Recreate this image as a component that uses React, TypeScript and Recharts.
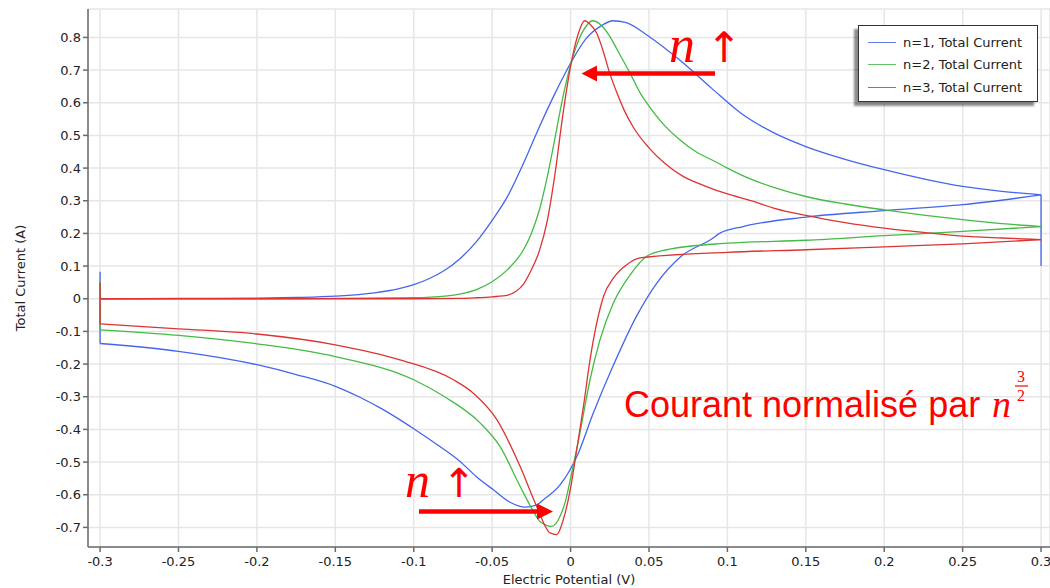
import React from 'react';
import { LineChart, Line, XAxis, YAxis, CartesianGrid } from 'recharts';

// Forward sweeps (potential in V, current in A), one pair per n
const fwdV1 = [-0.3, -0.25, -0.2, -0.175, -0.15, -0.125, -0.11, -0.1, -0.09, -0.08, -0.07, -0.06, -0.05, -0.04, -0.03, -0.02, -0.01, 0, 0.01, 0.02, 0.027, 0.035, 0.05, 0.07, 0.09, 0.11, 0.13, 0.15, 0.175, 0.2, 0.225, 0.25, 0.275, 0.3];
const fwdI1 = [0, 0.001, 0.002, 0.004, 0.008, 0.018, 0.03, 0.043, 0.062, 0.088, 0.125, 0.175, 0.24, 0.315, 0.415, 0.525, 0.628, 0.721, 0.797, 0.837, 0.851, 0.846, 0.803, 0.729, 0.644, 0.563, 0.507, 0.466, 0.427, 0.395, 0.367, 0.344, 0.329, 0.318];

const fwdV2 = [-0.3, -0.2, -0.15, -0.1, -0.08, -0.07, -0.06, -0.05, -0.04, -0.03, -0.025, -0.02, -0.015, -0.01, -0.005, 0, 0.005, 0.01, 0.014, 0.02, 0.025, 0.03, 0.038, 0.045, 0.05, 0.06, 0.07, 0.08, 0.093, 0.1, 0.115, 0.13, 0.15, 0.175, 0.2, 0.225, 0.25, 0.275, 0.3];
const fwdI2 = [0, 0, 0.001, 0.003, 0.008, 0.015, 0.028, 0.052, 0.09, 0.15, 0.2, 0.27, 0.37, 0.49, 0.615, 0.716, 0.79, 0.835, 0.851, 0.835, 0.803, 0.76, 0.69, 0.625, 0.59, 0.53, 0.485, 0.45, 0.418, 0.4, 0.366, 0.34, 0.313, 0.29, 0.272, 0.256, 0.242, 0.23, 0.221];

const fwdV3 = [-0.3, -0.1, -0.07, -0.06, -0.05, -0.04, -0.035, -0.03, -0.026, -0.02, -0.015, -0.01, -0.005, 0, 0.005, 0.009, 0.0125, 0.0167, 0.02, 0.025, 0.03, 0.034, 0.04, 0.05, 0.06, 0.072, 0.08, 0.093, 0.1, 0.115, 0.13, 0.15, 0.175, 0.2, 0.225, 0.25, 0.275, 0.3];
const fwdI3 = [0, 0, 0.001, 0.003, 0.006, 0.011, 0.022, 0.045, 0.079, 0.145, 0.235, 0.38, 0.56, 0.711, 0.813, 0.851, 0.84, 0.813, 0.77, 0.69, 0.625, 0.579, 0.525, 0.462, 0.415, 0.374, 0.356, 0.332, 0.321, 0.3, 0.277, 0.255, 0.233, 0.216, 0.203, 0.192, 0.186, 0.181];

// Reverse sweeps, from +0.3 V back to -0.3 V
const revV1 = [0.3, 0.25, 0.2, 0.15, 0.11, 0.095, 0.09, 0.07, 0.055, 0.042, 0.027, 0.0145, 0.004, -0.0067, -0.0173, -0.0216, -0.029, -0.0386, -0.0492, -0.06, -0.0705, -0.085, -0.1, -0.11, -0.12, -0.135, -0.15, -0.175, -0.2, -0.25, -0.3];
const revI1 = [0.318, 0.288, 0.27, 0.25, 0.221, 0.2, 0.183, 0.128, 0.048, -0.054, -0.207, -0.35, -0.483, -0.57, -0.615, -0.631, -0.638, -0.623, -0.585, -0.545, -0.498, -0.447, -0.398, -0.367, -0.338, -0.3, -0.268, -0.232, -0.202, -0.161, -0.137];

const revV2 = [0.3, 0.25, 0.2, 0.15, 0.1, 0.0613, 0.0486, 0.038, 0.0273, 0.0188, 0.0124, 0.006, 0, -0.003, -0.0067, -0.012, -0.0195, -0.0237, -0.0322, -0.045, -0.0577, -0.079, -0.1, -0.15, -0.2, -0.25, -0.3];
const revI2 = [0.221, 0.206, 0.193, 0.179, 0.17, 0.15, 0.13, 0.073, -0.013, -0.125, -0.248, -0.41, -0.55, -0.615, -0.666, -0.697, -0.682, -0.651, -0.574, -0.452, -0.38, -0.304, -0.248, -0.177, -0.138, -0.112, -0.095];

const revV3 = [0.3, 0.25, 0.2, 0.15, 0.1, 0.0443, 0.0358, 0.0273, 0.021, 0.0167, 0.0124, 0.0082, 0.004, 0, -0.0046, -0.0088, -0.0131, -0.0216, -0.0322, -0.047, -0.062, -0.0747, -0.1088, -0.15, -0.2, -0.25, -0.3];
const revI3 = [0.181, 0.168, 0.159, 0.15, 0.142, 0.125, 0.104, 0.063, 0.007, -0.074, -0.187, -0.33, -0.46, -0.58, -0.676, -0.722, -0.717, -0.636, -0.513, -0.37, -0.289, -0.248, -0.187, -0.141, -0.108, -0.092, -0.077];

// initial current at -0.3 V, and lowest current at the +0.3 V switching point
const startI = [0.083, 0.053, 0.048];
const switchI = [0.1, 0.221, 0.181];

const seriesNames = ['n=1, Total Current', 'n=2, Total Current', 'n=3, Total Current'];
const seriesColors = ['#4466ee', '#44bb44', '#dd3333'];

const xTicks = [-0.3, -0.25, -0.2, -0.15, -0.1, -0.05, 0, 0.05, 0.1, 0.15, 0.2, 0.25, 0.3];
const yTicks = [-0.7, -0.6, -0.5, -0.4, -0.3, -0.2, -0.1, 0, 0.1, 0.2, 0.3, 0.4, 0.5, 0.6, 0.7, 0.8];

const W = 1050;
const H = 588;
const FONT = '"DejaVu Sans", Verdana, sans-serif';
const RED = '#ff0000';
const X_DOMAIN: [number, number] = [-0.3077, 0.3057];
const Y_DOMAIN: [number, number] = [-0.76, 0.887];

const zip = (vs: number[], is: number[]) => vs.map((v, k) => ({ v, i: is[k] }));

// each cycle = smooth forward branch + smooth reverse branch + vertical jumps at the scan ends
const cycles = [
  { fwd: zip(fwdV1, fwdI1), rev: zip(revV1, revI1) },
  { fwd: zip(fwdV2, fwdI2), rev: zip(revV2, revI2) },
  { fwd: zip(fwdV3, fwdI3), rev: zip(revV3, revI3) },
].map((c, k) => {
  const fEnd = c.fwd[c.fwd.length - 1];
  const rStart = c.rev[0];
  const rEnd = c.rev[c.rev.length - 1];
  const jumps = [
    { v: fEnd.v, i: fEnd.i },
    { v: fEnd.v, i: switchI[k] },
    { v: rStart.v, i: rStart.i },
    { v: 0, i: null },
    { v: rEnd.v, i: rEnd.i },
    { v: rEnd.v, i: startI[k] },
    { v: c.fwd[0].v, i: c.fwd[0].i },
  ];
  return { ...c, jumps };
});

const axisColor = '#6b6b6b';
const tickText = { fill: '#222', fontSize: 13, fontFamily: FONT };

function YTitle(props: any) {
  const { viewBox } = props;
  const cx = viewBox.x + 20;
  const cy = viewBox.y + viewBox.height / 2;
  return (
    <text x={cx} y={cy} transform={`rotate(-90 ${cx} ${cy})`} textAnchor="middle" dominantBaseline="central"
      fill="#222" fontSize={13} fontFamily={FONT}>
      Total Current (A)
    </text>
  );
}

function LegendBox() {
  return (
    <div style={{
      position: 'absolute', left: 858, top: 25, width: 178, height: 75,
      background: '#fff', border: '1px solid #333', boxShadow: '-4px 4px 2px rgba(0,0,0,0.45)',
      fontFamily: FONT, fontSize: 13, color: '#222',
    }}>
      {seriesNames.map((name, k) => (
        <div key={name} style={{ position: 'absolute', left: 9, top: 5 + k * 22.7, height: 22, display: 'flex', alignItems: 'center' }}>
          <div style={{ width: 28, height: 0, borderTop: `1.5px solid ${seriesColors[k]}`, opacity: 0.85 }} />
          <span style={{ marginLeft: 7, whiteSpace: 'nowrap' }}>{name}</span>
        </div>
      ))}
    </div>
  );
}

function Annotations() {
  return (
    <svg width={W} height={H} style={{ position: 'absolute', left: 0, top: 0, pointerEvents: 'none' }}>
      {/* upper arrow, pointing left */}
      <line x1={715} y1={73.5} x2={596} y2={73.5} stroke={RED} strokeWidth={4.5} />
      <polygon points="581.5,73.5 597,65.5 597,81.5" fill={RED} />
      <text x={669} y={62} fill={RED} fontFamily='"Liberation Serif", serif' fontStyle="italic" fontSize={52}>n</text>
      <text x={724} y={62} fill={RED} fontFamily={FONT} fontSize={42} textAnchor="middle">↑</text>

      {/* lower arrow, pointing right */}
      <line x1={419} y1={511.5} x2={538} y2={511.5} stroke={RED} strokeWidth={4.5} />
      <polygon points="553,511.5 537,503.5 537,519.5" fill={RED} />
      <text x={405} y={497} fill={RED} fontFamily='"Liberation Serif", serif' fontStyle="italic" fontSize={50}>n</text>
      <text x={459} y={497} fill={RED} fontFamily={FONT} fontSize={40} textAnchor="middle">↑</text>

      <text x={624} y={417} fill={RED} fontFamily='"Liberation Sans", Arial, sans-serif' fontSize={36}>Courant normalisé par</text>
      <text x={992} y={417} fill={RED} fontFamily='"Liberation Serif", serif' fontStyle="italic" fontSize={38}>n</text>
      <text x={1021} y={382} fill={RED} fontFamily='"Liberation Serif", serif' fontSize={16} textAnchor="middle">3</text>
      <line x1={1015} y1={386} x2={1028} y2={386} stroke={RED} strokeWidth={1.2} />
      <text x={1021} y={401} fill={RED} fontFamily='"Liberation Serif", serif' fontSize={16} textAnchor="middle">2</text>
    </svg>
  );
}

export default function App() {
  return (
    <div style={{ position: 'absolute', left: 0, top: 0, width: W, height: H, background: '#fff', overflow: 'hidden' }}>
      <LineChart width={W} height={H} margin={{ top: 9, right: 0, bottom: 0, left: 0 }}>
        <CartesianGrid stroke="#e6e6e6" strokeWidth={1.5} />
        <XAxis
          xAxisId={0}
          dataKey="v"
          type="number"
          domain={X_DOMAIN}
          allowDataOverflow
          ticks={xTicks}
          tickFormatter={(v: number) => String(v)}
          height={41}
          tickSize={5}
          tickMargin={5}
          tick={tickText}
          stroke={axisColor}
          strokeWidth={1.5}
          label={{ value: 'Electric Potential (V)', position: 'insideBottom', offset: 4, fill: '#222', fontSize: 13, fontFamily: FONT }}
        />
        <XAxis
          xAxisId="top"
          orientation="top"
          dataKey="v"
          type="number"
          domain={X_DOMAIN}
          allowDataOverflow
          ticks={xTicks}
          height={0}
          mirror
          tick={false}
          tickSize={5}
          stroke={axisColor}
          strokeWidth={1.5}
        />
        <YAxis
          yAxisId={0}
          type="number"
          domain={Y_DOMAIN}
          allowDataOverflow
          ticks={yTicks}
          tickFormatter={(v: number) => String(v)}
          width={88}
          tickSize={5}
          tick={tickText}
          stroke={axisColor}
          strokeWidth={1.5}
          label={{ content: (p: any) => <YTitle {...p} /> }}
        />
        <YAxis
          yAxisId="right"
          orientation="right"
          type="number"
          domain={Y_DOMAIN}
          allowDataOverflow
          ticks={yTicks}
          width={0}
          mirror
          tick={false}
          tickSize={5}
          stroke={axisColor}
          strokeWidth={1.5}
        />
        {cycles.flatMap((c, k) => [
          <Line key={`${k}-fwd`} xAxisId={0} yAxisId={0} data={c.fwd} dataKey="i" name={seriesNames[k]}
            type="monotoneX" stroke={seriesColors[k]} strokeWidth={1.3} dot={false} activeDot={false} isAnimationActive={false} />,
          <Line key={`${k}-rev`} xAxisId={0} yAxisId={0} data={c.rev} dataKey="i" name={seriesNames[k]}
            type="monotoneX" stroke={seriesColors[k]} strokeWidth={1.3} dot={false} activeDot={false} isAnimationActive={false} />,
          <Line key={`${k}-jump`} xAxisId={0} yAxisId={0} data={c.jumps} dataKey="i" name={seriesNames[k]}
            type="linear" stroke={seriesColors[k]} strokeWidth={1.3} dot={false} activeDot={false} isAnimationActive={false} />,
        ])}
      </LineChart>
      <LegendBox />
      <Annotations />
    </div>
  );
}
